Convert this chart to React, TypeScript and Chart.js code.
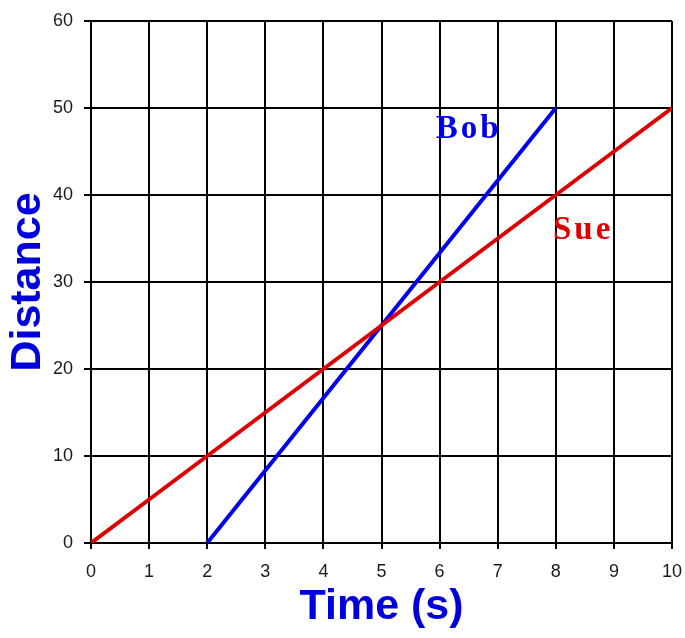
import React, { useEffect, useRef } from "react";
import { Chart, registerables } from "chart.js";

Chart.register(...registerables);

const sueTimes = [0, 1, 2, 3, 4, 5, 6, 7, 8, 9, 10];
const sueDistances = [0, 5, 10, 15, 20, 25, 30, 35, 40, 45, 50];
const bobTimes = [2, 8];
const bobDistances = [0, 50];

const labelTexts = ["Bob", "Sue"];
const labelTimes = [6.5, 8.47];
const labelDistances = [47.5, 35.9];
const labelColors = ["#0000ee", "#e00000"];

const xTitle = "Time (s)";
const yTitle = "Distance";

const labelPlugin = {
  id: "lineLabels",
  afterDatasetsDraw(chart: any) {
    const { ctx, scales } = chart;
    const xs = scales.x;
    const ys = scales.y;
    ctx.save();
    ctx.font = "bold 33px 'Liberation Serif', 'Times New Roman', serif";
    ctx.textAlign = "center";
    ctx.textBaseline = "middle";
    try {
      (ctx as any).letterSpacing = "3px";
    } catch (e) {}
    labelTexts.forEach((t, i) => {
      ctx.fillStyle = labelColors[i];
      ctx.fillText(t, xs.getPixelForValue(labelTimes[i]), ys.getPixelForValue(labelDistances[i]));
    });
    ctx.restore();
  },
};

export default function App() {
  const ref = useRef<HTMLCanvasElement | null>(null);
  useEffect(() => {
    if (!ref.current) return;
    const chart = new Chart(ref.current, {
      type: "scatter",
      data: {
        datasets: [
          {
            label: "Sue",
            data: sueTimes.map((t, i) => ({ x: t, y: sueDistances[i] })),
            showLine: true,
            borderColor: "#e00000",
            backgroundColor: "#e00000",
            borderWidth: 4,
            pointRadius: 0,
            borderCapStyle: "butt",
          },
          {
            label: "Bob",
            data: bobTimes.map((t, i) => ({ x: t, y: bobDistances[i] })),
            showLine: true,
            borderColor: "#0000ee",
            backgroundColor: "#0000ee",
            borderWidth: 4,
            pointRadius: 0,
            borderCapStyle: "butt",
          },
        ],
      },
      options: {
        responsive: false,
        animation: false,
        layout: { padding: { top: 21, right: 13, left: 0, bottom: 0 } },
        plugins: {
          legend: { display: false },
          tooltip: { enabled: false },
        },
        scales: {
          x: {
            type: "linear",
            min: 0,
            max: 10,
            ticks: {
              stepSize: 1,
              padding: 12,
              color: "#1a1a1a",
              font: { family: "'Liberation Sans', Arial, sans-serif", size: 18 },
            },
            grid: { color: "#000", lineWidth: 2, tickLength: 6, drawTicks: true },
            border: { color: "#000", width: 2 },
            title: {
              display: true,
              text: xTitle,
              color: "#0000dd",
              font: { family: "'Liberation Sans', Arial, sans-serif", size: 43, weight: "bold", lineHeight: 1.2 },
              padding: { top: 0, bottom: 5 },
            },
            afterFit(scale: any) {
              scale.height = 95;
              scale.paddingLeft = 0;
              scale.paddingRight = 0;
            },
          },
          y: {
            type: "linear",
            min: 0,
            max: 60,
            ticks: {
              stepSize: 10,
              padding: 11,
              color: "#1a1a1a",
              font: { family: "'Liberation Sans', Arial, sans-serif", size: 18 },
            },
            grid: { color: "#000", lineWidth: 2, tickLength: 7, drawTicks: true },
            border: { color: "#000", width: 2 },
            title: {
              display: true,
              text: yTitle,
              color: "#0000dd",
              font: { family: "'Liberation Sans', Arial, sans-serif", size: 43, weight: "bold", lineHeight: 1.2 },
              padding: { top: 2, bottom: 0 },
            },
            afterFit(scale: any) {
              scale.width = 91;
              scale.paddingTop = 0;
              scale.paddingBottom = 0;
            },
          },
        },
      },
      plugins: [labelPlugin],
    });
    return () => chart.destroy();
  }, []);
  return (
    <div style={{ position: "absolute", left: 0, top: 0, width: 685, height: 638, background: "#fff" }}>
      <canvas ref={ref} width={685} height={638} style={{ display: "block", width: 685, height: 638 }} />
    </div>
  );
}
